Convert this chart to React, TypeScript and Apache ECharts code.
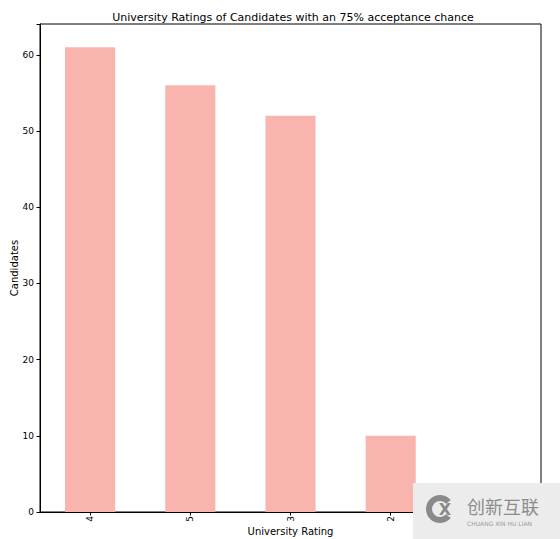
import React, { useEffect, useRef } from "react";
import * as echarts from "echarts";

const categories = ["4", "5", "3", "2", "1"];
const candidates = [61, 56, 52, 10, 1];
const yTicks = [0, 10, 20, 30, 40, 50, 60];
// label of the last category is covered by the watermark in the reference
const hiddenLabels = ["1"];

const FONT = "DejaVu Sans";

export default function App() {
  const ref = useRef<HTMLDivElement>(null);
  useEffect(() => {
    if (!ref.current) return;
    const chart = echarts.init(ref.current, null, { renderer: "svg" });
    chart.setOption({
      animation: false,
      backgroundColor: "#ffffff",
      title: {
        text: "University Ratings of Candidates with an 75% acceptance chance",
        left: 288,
        top: 7,
        textAlign: "center",
        textStyle: { fontFamily: FONT, fontSize: 11, fontWeight: "normal", color: "#000" },
      },
      grid: {
        left: 40,
        right: 19,
        top: 24,
        bottom: 27,
        containLabel: false,
        outerBoundsMode: "none",
        show: true,
        borderColor: "#000",
        borderWidth: 1,
        backgroundColor: "transparent",
      },
      xAxis: {
        type: "category",
        data: categories,
        boundaryGap: true,
        name: "University Rating",
        nameLocation: "middle",
        nameGap: 14,
        nameMoveOverlap: false,
        nameTextStyle: { fontFamily: FONT, fontSize: 10, color: "#000" },
        axisLine: { show: true, lineStyle: { color: "#000", width: 1 } },
        axisTick: { show: true, alignWithLabel: true, length: 3.5, lineStyle: { color: "#000" } },
        axisLabel: {
          rotate: 90,
          fontFamily: FONT,
          fontSize: 9,
          color: "#000",
          margin: 4,
          formatter: (v: string) => (hiddenLabels.includes(v) ? "" : v),
        },
        splitLine: { show: false },
      },
      yAxis: {
        type: "value",
        min: 0,
        max: 64.05,
        interval: 10,
        name: "Candidates",
        nameLocation: "middle",
        nameGap: 21,
        nameRotate: 90,
        nameMoveOverlap: false,
        nameTextStyle: { fontFamily: FONT, fontSize: 10, color: "#000" },
        axisLine: { show: true, lineStyle: { color: "#000", width: 1 } },
        axisTick: { show: true, length: 3.5, lineStyle: { color: "#000" } },
        axisLabel: {
          fontFamily: FONT,
          fontSize: 9,
          color: "#000",
          margin: 6,
          formatter: (v: number) => (yTicks.includes(v) ? String(v) : ""),
        },
        splitLine: { show: false },
      },
      series: [
        {
          type: "bar",
          data: candidates,
          barWidth: "50%",
          itemStyle: { color: "#f9b4ae" },
        },
      ],
      graphic: [
        {
          type: "group",
          left: 413,
          top: 483,
          z: 1000,
          zlevel: 1,
          children: [
            {
              type: "rect",
              z: 1000,
              shape: { x: 0, y: 0, width: 147, height: 56 },
              style: { fill: "#ececec" },
            },
            {
              type: "arc",
              z: 1001,
              shape: { cx: 27, cy: 26, r: 11, startAngle: 0.7, endAngle: -0.7, clockwise: true },
              style: { stroke: "#8a8a8a", lineWidth: 6, fill: "none" },
            },
            {
              type: "text",
              z: 1001,
              style: {
                text: "X",
                x: 32,
                y: 26,
                align: "center",
                verticalAlign: "middle",
                font: "bold 16px 'DejaVu Sans'",
                fill: "#8a8a8a",
              },
            },
            {
              type: "text",
              z: 1001,
              style: {
                text: "创新互联",
                x: 54,
                y: 23,
                verticalAlign: "middle",
                font: "18px 'Noto Sans CJK SC'",
                fill: "#8c8c8c",
              },
            },
            {
              type: "text",
              z: 1001,
              style: {
                text: "CHUANG XIN HU LIAN",
                x: 54,
                y: 40,
                verticalAlign: "middle",
                font: "6px 'DejaVu Sans'",
                fill: "#9a9a9a",
              },
            },
          ],
        },
      ],
    });
    return () => chart.dispose();
  }, []);
  return <div ref={ref} style={{ width: 560, height: 539, position: "absolute", left: 0, top: 0 }} />;
}
